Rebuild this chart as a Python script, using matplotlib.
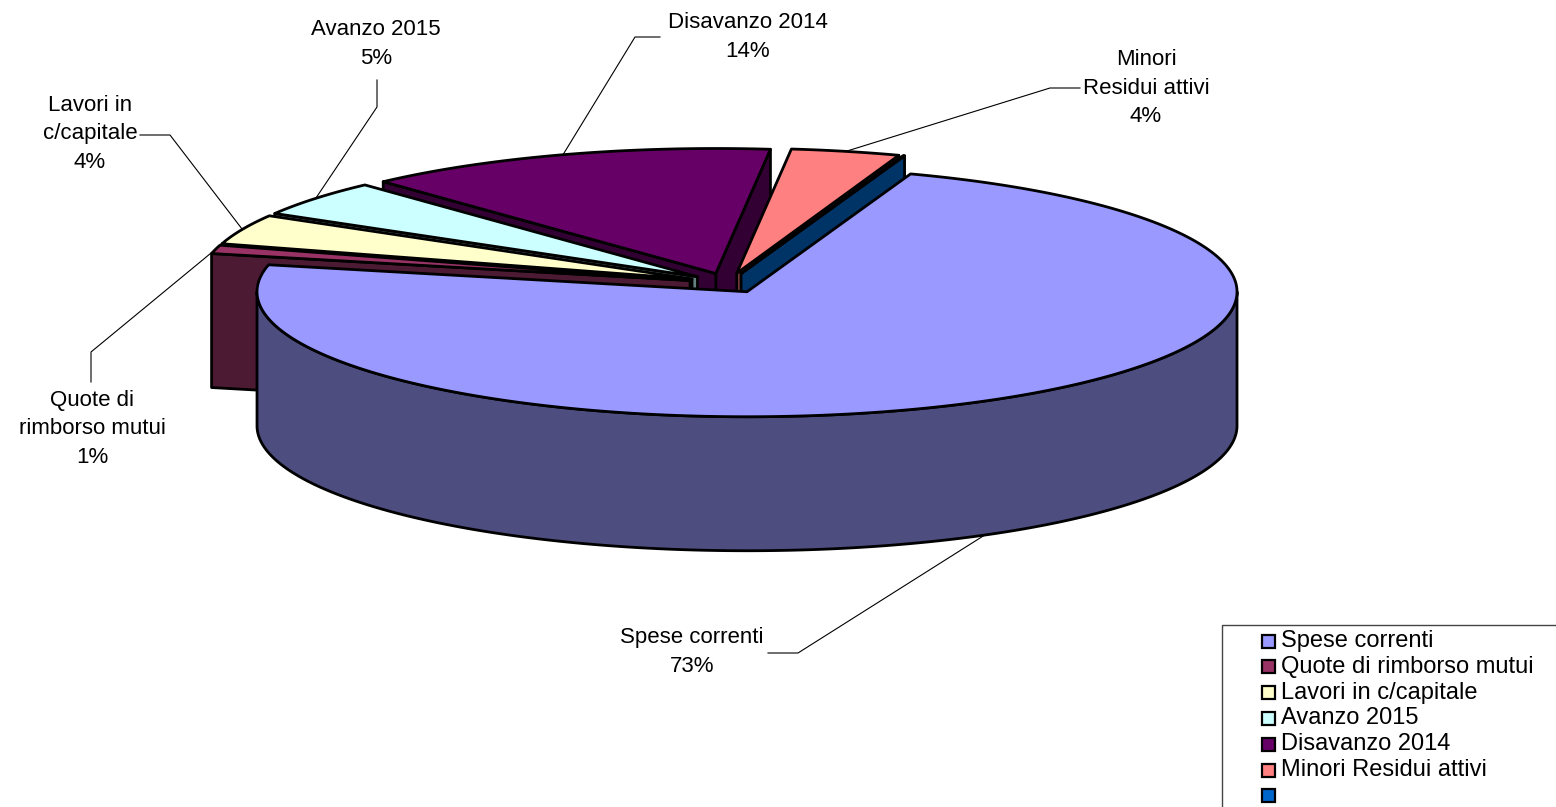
import numpy as np
import matplotlib
matplotlib.use("Agg")
import matplotlib.pyplot as plt
from matplotlib.colors import to_rgb
from matplotlib.patches import Polygon, Rectangle

# dati
categorie = ["Spese correnti", "Quote di rimborso mutui", "Lavori in c/capitale",
             "Avanzo 2015", "Disavanzo 2014", "Minori Residui attivi", ""]
etichette = ["Spese correnti", "Quote di\nrimborso mutui", "Lavori in\nc/capitale",
             "Avanzo 2015", "Disavanzo 2014", "Minori\nResidui attivi", None]
valori = [73.3, 1.1, 3.9, 4.7, 13.7, 3.6, 0.05]
colori = ["#9999FF", "#993366", "#FFFFCC", "#CCFFFF", "#660066", "#FF8080", "#0066CC"]

# posizione etichette e gomiti delle linee guida (pixel)
pos_etichette = [(692, 652), (92, 429), (90, 134), (376, 44), (748, 37), (1146, 88), None]
gomiti = [[(768, 653), (798, 653)], [(91, 382), (91, 352)], [(140, 135), (170, 135)],
          [(377, 80), (377, 107)], [(660, 37), (635, 37)], [(1080, 88), (1050, 88)], None]

# geometria torta 3D
CX, CY, RX, RY, H = 728, 283, 490, 125, 134
ESPL = 0.08
START = 70.5

plt.rcParams["font.family"] = ["Liberation Sans", "DejaVu Sans"]
fig = plt.figure(figsize=(15.56, 8.07), dpi=100)
ax = fig.add_axes([0, 0, 1, 1])
ax.set_xlim(0, 1556); ax.set_ylim(807, 0); ax.axis("off")

tot = sum(valori)
ang = np.array(valori) / tot * 360
fine = START - np.concatenate([[0], np.cumsum(ang)[:-1]])
inizio = fine - ang


def punto(ox, oy, th, z=0):
    t = np.radians(th)
    return (ox + RX * np.cos(t), oy - RY * np.sin(t) + z * H)


def arco(ox, oy, a, b, z=0):
    n = max(2, int(abs(b - a) * 2) + 2)
    return [punto(ox, oy, t, z) for t in np.linspace(a, b, n)]


lati, sopra, centri = [], [], []
for i, (a0, a1) in enumerate(zip(inizio, fine)):
    m = np.radians((a0 + a1) / 2)
    ox, oy = CX + ESPL * RX * np.cos(m), CY - ESPL * RY * np.sin(m)
    centri.append((ox, oy))
    ey = ESPL * np.sin(m)
    side = tuple(v * 0.5 for v in to_rgb(colori[i]))
    sopra.append((ey, [(ox, oy)] + arco(ox, oy, a0, a1), colori[i]))
    for k in (-1, 0, 1):
        lo, hi = max(a0, -180 + 360 * k), min(a1, 360 * k)
        if hi > lo:
            pts = arco(ox, oy, lo, hi) + arco(ox, oy, hi, lo, 1)
            lati.append((ey + np.sin(np.radians((lo + hi) / 2)), pts, side))
    for a, vis in ((a0, np.cos(np.radians(a0)) > 0), (a1, np.cos(np.radians(a1)) < 0)):
        if vis:
            pts = [(ox, oy), punto(ox, oy, a), punto(ox, oy, a, 1), (ox, oy + H)]
            lati.append((ey + 0.5 * np.sin(np.radians(a)), pts, side))

for _, pts, c in sorted(lati, key=lambda f: -f[0]) + sorted(sopra, key=lambda f: -f[0]):
    ax.add_patch(Polygon(pts, closed=True, fc=c, ec="black", lw=2.0, joinstyle="round"))

# etichette con linee guida
for i, et in enumerate(etichette):
    if et is None:
        continue
    pct = int(np.floor(valori[i] / tot * 100 + 0.5))
    x, y = pos_etichette[i]
    ax.text(x, y, f"{et}\n{pct}%", ha="center", va="center", fontsize=16, linespacing=1.45)
    mid = (inizio[i] + fine[i]) / 2
    att = punto(*centri[i], mid, 1 if np.sin(np.radians(mid)) < 0 else 0)
    pts = gomiti[i] + [att]
    ax.plot([p[0] for p in pts], [p[1] for p in pts], color="black", lw=0.8)

# legenda
ax.add_patch(Rectangle((1222, 625), 400, 300, fill=False, ec="#444444", lw=1))
for i, (nome, c) in enumerate(zip(categorie, colori)):
    yc = 641 + i * 25.8
    ax.add_patch(Rectangle((1262, yc - 6.5), 13, 13, fc=c, ec="black", lw=1.6))
    ax.text(1281, yc, nome, va="center", ha="left", fontsize=17)

fig.savefig("out.png", dpi=100)
